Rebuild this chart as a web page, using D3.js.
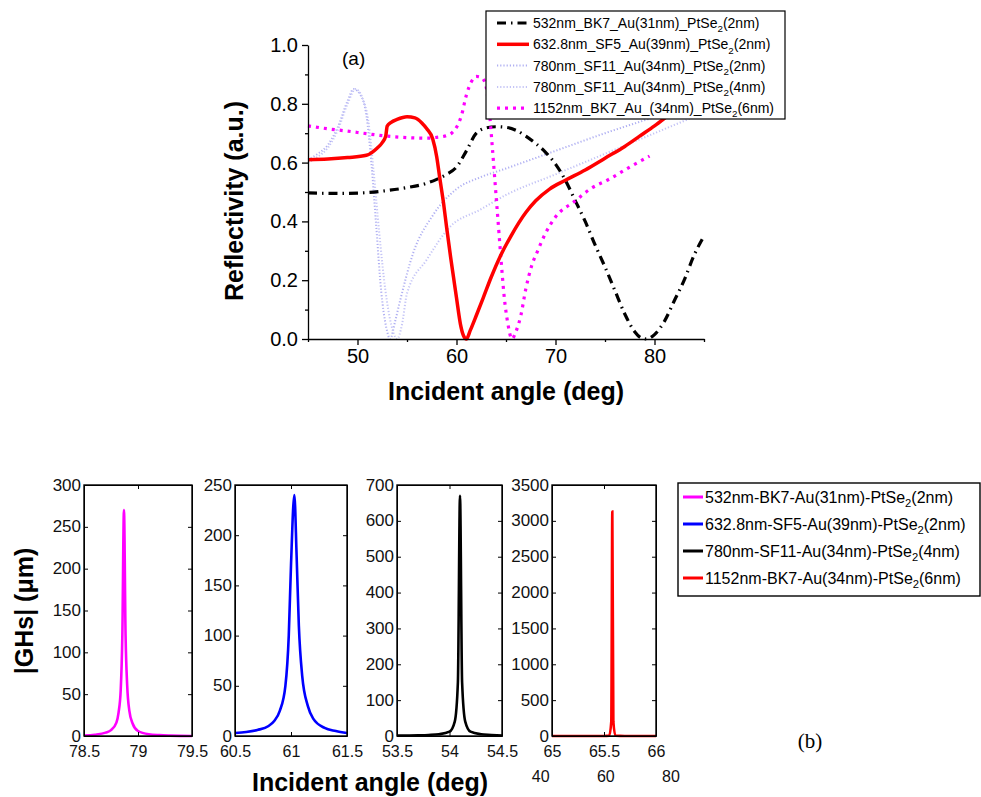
<!DOCTYPE html>
<html>
<head>
<meta charset="utf-8">
<style>
  body { margin: 0; background: #fff; }
  svg { display: block; font-family: Arial, "Liberation Sans", sans-serif; }
</style>
</head>
<body>
<div class="container"></div>
<script src="https://d3js.org/d3.v7.min.js"></script>
<script>
// ---------- data, panel (a): reflectivity vs incident angle (deg)
var r532 = [[45,0.497],[48,0.495],[51,0.498],[53,0.505],[55,0.515],[57,0.53],[58,0.543],[59,0.56],[60,0.585],
  [61,0.64],[62,0.70],[63,0.718],[64,0.722],[65,0.72],[66,0.71],[67,0.69],[68,0.665],[69,0.635],[70,0.595],
  [71,0.54],[72,0.47],[73,0.40],[74,0.32],[75,0.245],[76,0.165],[77,0.085],[78,0.025],[78.7,0.003],
  [79.2,0.0],[80,0.015],[81,0.06],[82,0.13],[83,0.20],[84,0.285],[85,0.35]];
var r633 = [[45,0.61],[47,0.612],[49,0.617],[50.9,0.625],[52,0.65],[52.5,0.668],[52.85,0.69],[53.0,0.724],
  [53.4,0.737],[54,0.747],[55,0.756],[55.8,0.752],[56.5,0.735],[57,0.715],[57.6,0.68],[58,0.62],[58.3,0.55],
  [58.7,0.46],[59,0.38],[59.4,0.28],[59.7,0.21],[60,0.14],[60.4,0.05],[60.7,0.012],[61,0.0],[61.4,0.03],
  [62,0.08],[62.7,0.14],[63.5,0.21],[64.4,0.28],[65.5,0.35],[67,0.43],[68,0.47],[69.4,0.51],[71,0.54],
  [73,0.575],[75,0.615],[77,0.655],[78.5,0.69],[80,0.725],[82,0.775],[85,0.84]];
var r780a = [[45,0.61],[46,0.63],[47,0.66],[48,0.72],[49,0.81],[49.6,0.85],[50.3,0.83],[50.9,0.76],
  [51.4,0.60],[51.9,0.38],[52.4,0.16],[52.9,0.04],[53.3,0.0],[53.8,0.06],[54.3,0.13],[55.6,0.29],
  [57.6,0.42],[60,0.51],[62.4,0.55],[65,0.58],[70,0.64],[75,0.70],[80,0.755],[85,0.81]];
var r780b = [[45,0.60],[46,0.62],[47,0.65],[48,0.71],[49,0.80],[49.8,0.85],[50.5,0.82],[51.1,0.74],
  [51.6,0.58],[52.2,0.36],[52.8,0.17],[53.4,0.05],[54,0.0],[54.5,0.05],[55,0.155],[57,0.27],[59.3,0.38],
  [62.4,0.44],[65,0.49],[70,0.56],[75,0.63],[80,0.70],[85,0.77]];
var r1152 = [[45,0.725],[47,0.715],[49,0.707],[51,0.698],[53,0.69],[55,0.685],[57,0.683],[58,0.686],
  [59,0.692],[59.5,0.70],[60,0.72],[60.5,0.76],[61,0.83],[61.5,0.875],[62,0.893],[62.5,0.89],[62.9,0.87],
  [63.3,0.78],[63.6,0.66],[63.9,0.53],[64.2,0.40],[64.5,0.27],[64.8,0.15],[65.2,0.05],[65.6,0.0],
  [66,0.025],[66.5,0.08],[67,0.17],[67.6,0.25],[68.2,0.30],[69,0.36],[70,0.415],[72,0.47],[73.5,0.51],
  [75.5,0.545],[77.5,0.585],[79.5,0.622]];
var legendA = [['532nm_BK7_Au(31nm)_PtSe', '(2nm)'], ['632.8nm_SF5_Au(39nm)_PtSe', '(2nm)'],
  ['780nm_SF11_Au(34nm)_PtSe', '(2nm)'], ['780nm_SF11_Au(34nm)_PtSe', '(4nm)'],
  ['1152nm_BK7_Au_(34nm)_PtSe', '(6nm)']];
var xTicksA = [50, 60, 70, 80];
var yTicksA = [0, 0.2, 0.4, 0.6, 0.8, 1.0];

// ---------- data, panel (b): |GHs| (um) vs incident angle (deg)
var ghs532 = [[78.5,0.5],[78.6,1.5],[78.7,4],[78.75,7],[78.8,16],[78.82,28],[78.84,55],[78.855,120],
  [78.87,270],[78.885,120],[78.9,60],[78.92,30],[78.95,15],[79.0,6],[79.1,2],[79.2,1],[79.3,0.5],[79.5,0]];
var ghs633 = [[60.5,3],[60.6,4],[60.7,6],[60.8,10],[60.85,15],[60.9,25],[60.95,50],[60.98,100],[61.0,170],
  [61.03,240],[61.05,180],[61.07,110],[61.1,60],[61.15,30],[61.2,17],[61.3,8],[61.4,5],[61.5,3]];
var ghs780 = [[53.5,1],[53.7,2],[53.8,3],[53.9,5],[54.0,12],[54.05,40],[54.08,150],[54.1,670],[54.12,150],
  [54.15,40],[54.2,12],[54.3,5],[54.4,3],[54.5,1]];
var ghs1152 = [[65,0],[65.5,0],[65.55,5],[65.57,200],[65.58,3130],[65.59,200],[65.61,5],[65.7,0],[66,0]];
var xDomainsB = [[78.5,79.5],[60.5,61.5],[53.5,54.5],[65,66]];
var xTicksB = [[78.5,79,79.5],[60.5,61,61.5],[53.5,54,54.5],[65,65.5,66]];
var yMaxB = [300, 250, 700, 3500];
var yStepB = [50, 50, 100, 500];
var legendB = [['532nm-BK7-Au(31nm)-PtSe', '(2nm)'], ['632.8nm-SF5-Au(39nm)-PtSe', '(2nm)'],
  ['780nm-SF11-Au(34nm)-PtSe', '(4nm)'], ['1152nm-BK7-Au(34nm)-PtSe', '(6nm)']];
var strayTicks = [40, 60, 80];

var svg = d3.select('.container').append('svg')
    .attr('width', 981).attr('height', 797);

function subLabel(sel, parts, size) {
  sel.append('tspan').text(parts[0]);
  sel.append('tspan').text('2').attr('font-size', size * 0.7).attr('dy', size * 0.3);
  sel.append('tspan').text(parts[1]).attr('dy', -size * 0.3);
}

// ================= panel (a)
var x = d3.scaleLinear().domain([45, 85]).range([308, 704]),
    y = d3.scaleLinear().domain([0, 1]).range([339, 45]);

var styleA = [
  { stroke: '#000', width: 3.2, dash: '9,5,1.5,5' },
  { stroke: '#ff0000', width: 3.5, dash: null },
  { stroke: '#b0b0f2', width: 2, dash: '1.2,2' },
  { stroke: '#c4c4f6', width: 2, dash: '1.2,2' },
  { stroke: '#ff00ff', width: 3.2, dash: '3,5' }
];
var seriesA = [r532, r633, r780a, r780b, r1152];

var line = d3.line().x(function(d) { return x(d[0]); }).y(function(d) { return y(d[1]); })
    .curve(d3.curveMonotoneX);

var gA = svg.append('g');
[2, 3, 0, 4, 1].forEach(function(i) {
  gA.append('path').datum(seriesA[i])
    .attr('d', line).attr('fill', 'none')
    .attr('stroke', styleA[i].stroke).attr('stroke-width', styleA[i].width)
    .attr('stroke-dasharray', styleA[i].dash);
});

// axes
var xAxis = svg.append('g').attr('transform', 'translate(0,339)')
    .call(d3.axisBottom(x).tickValues(xTicksA).tickSize(6).tickSizeOuter(0).tickPadding(4));
svg.append('g').attr('transform', 'translate(0,339)')
    .call(d3.axisBottom(x).tickValues([45, 55, 65, 75, 85]).tickSize(3).tickFormat(''))
    .select('.domain').remove();
var yAxis = svg.append('g').attr('transform', 'translate(308,0)')
    .call(d3.axisLeft(y).tickValues(yTicksA).tickSize(6).tickSizeOuter(0).tickPadding(4)
      .tickFormat(d3.format('.1f')));
svg.append('g').attr('transform', 'translate(308,0)')
    .call(d3.axisLeft(y).tickValues([0.1, 0.3, 0.5, 0.7, 0.9]).tickSize(3).tickFormat(''))
    .select('.domain').remove();
xAxis.selectAll('text').attr('font-size', 20).attr('fill', '#000').attr('font-family', 'Arial, Liberation Sans');
yAxis.selectAll('text').attr('font-size', 20).attr('fill', '#000').attr('font-family', 'Arial, Liberation Sans');
svg.selectAll('.domain, .tick line').attr('stroke', '#000').attr('stroke-width', 1.3);

svg.append('text').attr('x', 506).attr('y', 400).attr('text-anchor', 'middle')
  .attr('font-size', 25).attr('font-weight', 'bold').text('Incident angle (deg)');
svg.append('text').attr('transform', 'translate(243,201) rotate(-90)').attr('text-anchor', 'middle')
  .attr('font-size', 25).attr('font-weight', 'bold').text('Reflectivity (a.u.)');
svg.append('text').attr('x', 342).attr('y', 65).attr('font-size', 19).text('(a)');

// legend (a)
var legA = svg.append('g');
legA.append('rect').attr('x', 486).attr('y', 11).attr('width', 299).attr('height', 108)
  .attr('fill', '#fff').attr('stroke', '#000').attr('stroke-width', 1.2);
legendA.forEach(function(lab, i) {
  var cy = 23 + i * 21.3;
  legA.append('line').attr('x1', 497).attr('x2', 529).attr('y1', cy).attr('y2', cy)
    .attr('stroke', styleA[i].stroke).attr('stroke-width', styleA[i].width)
    .attr('stroke-dasharray', styleA[i].dash);
  legA.append('text').attr('x', 533).attr('y', cy + 5).attr('font-size', 14)
    .call(subLabel, lab, 14);
});

// ================= panel (b)
var colorsB = ['#ff00ff', '#0000ff', '#000000', '#ff0000'];
var seriesB = [ghs532, ghs633, ghs780, ghs1152];
var panelL = [84, 235, 397, 552], panelR = [192, 347, 502, 656];
var pTop = 485, pBottom = 736;

seriesB.forEach(function(data, i) {
  var px = d3.scaleLinear().domain(xDomainsB[i]).range([panelL[i], panelR[i]]),
      py = d3.scaleLinear().domain([0, yMaxB[i]]).range([pBottom, pTop]);
  var yt = d3.range(0, yMaxB[i] + 1, yStepB[i]);
  var g = svg.append('g');
  var ln = d3.line().x(function(d) { return px(d[0]); }).y(function(d) { return py(d[1]); })
      .curve(d3.curveMonotoneX);
  g.append('path').datum(data).attr('d', ln).attr('fill', 'none')
    .attr('stroke', colorsB[i]).attr('stroke-width', 2.6);

  var ax = [
    g.append('g').attr('transform', 'translate(0,' + pBottom + ')')
      .call(d3.axisBottom(px).tickValues(xTicksB[i]).tickSize(-4).tickSizeOuter(0).tickPadding(5)
        .tickFormat(function(d) { return d; })),
    g.append('g').attr('transform', 'translate(0,' + pTop + ')')
      .call(d3.axisTop(px).tickValues(xTicksB[i]).tickSize(-4).tickSizeOuter(0).tickFormat('')),
    g.append('g').attr('transform', 'translate(' + panelL[i] + ',0)')
      .call(d3.axisLeft(py).tickValues(yt).tickSize(-4).tickSizeOuter(0).tickPadding(3)
        .tickFormat(d3.format('d'))),
    g.append('g').attr('transform', 'translate(' + panelR[i] + ',0)')
      .call(d3.axisRight(py).tickValues(yt).tickSize(-4).tickSizeOuter(0).tickFormat(''))
  ];
  ax.forEach(function(a) {
    a.selectAll('text').attr('font-size', 17).attr('fill', '#111')
      .attr('font-family', 'Arial, Liberation Sans');
    a.selectAll('.domain, .tick line').attr('stroke', '#000').attr('stroke-width', 1);
  });
  ax[0].selectAll('text').attr('dy', null).attr('y', 21).attr('font-size', 16);
  ax[2].selectAll('text').attr('dy', '0.3em');
  g.append('rect').attr('x', panelL[i]).attr('y', pTop)
    .attr('width', panelR[i] - panelL[i]).attr('height', pBottom - pTop)
    .attr('fill', 'none').attr('stroke', '#000').attr('stroke-width', 1.4);
});

// stray axis labels below the last panel
var sx = d3.scaleLinear().domain([40, 80]).range([540.7, 671]);
svg.append('g').selectAll('text').data(strayTicks).join('text')
  .attr('x', function(d) { return sx(d); }).attr('y', 782).attr('text-anchor', 'middle')
  .attr('font-size', 16).attr('fill', '#111').text(function(d) { return d; });

svg.append('text').attr('x', 370).attr('y', 791).attr('text-anchor', 'middle')
  .attr('font-size', 25).attr('font-weight', 'bold').text('Incident angle (deg)');
svg.append('text').attr('transform', 'translate(33,611) rotate(-90)').attr('text-anchor', 'middle')
  .attr('font-size', 25).attr('font-weight', 'bold').text('|GHs| (\u03bcm)');
svg.append('text').attr('x', 810).attr('y', 748).attr('text-anchor', 'middle')
  .attr('font-size', 21).attr('font-family', '"Liberation Serif", "Times New Roman", serif').text('(b)');

// legend (b)
var legB = svg.append('g');
legB.append('rect').attr('x', 678).attr('y', 483).attr('width', 302).attr('height', 113)
  .attr('fill', '#fff').attr('stroke', '#000').attr('stroke-width', 1.4);
legendB.forEach(function(lab, i) {
  var cy = 497 + i * 27;
  legB.append('line').attr('x1', 683).attr('x2', 703).attr('y1', cy).attr('y2', cy)
    .attr('stroke', colorsB[i]).attr('stroke-width', 3);
  legB.append('text').attr('x', 705).attr('y', cy + 5.5).attr('font-size', 16)
    .call(subLabel, lab, 16);
});
</script>
</body>
</html>
